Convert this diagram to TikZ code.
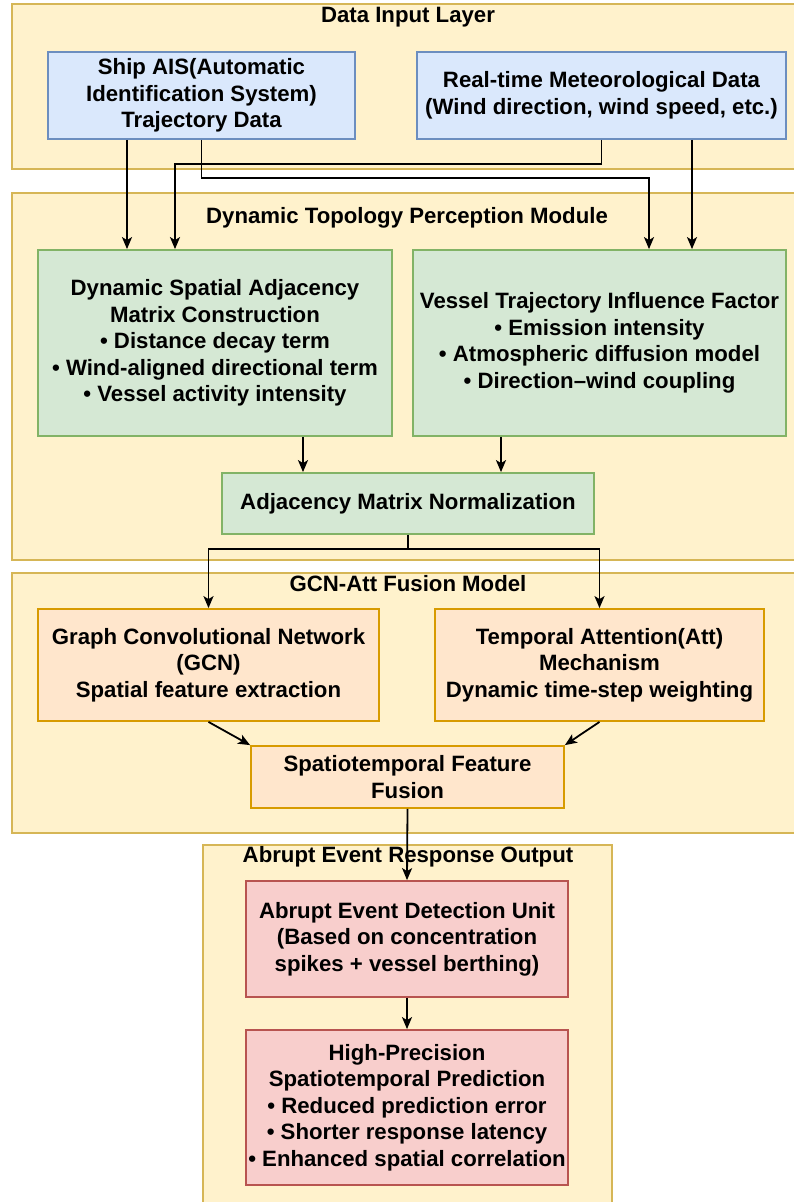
\documentclass[tikz,border=0pt]{standalone}
\usepackage{fontspec}
\setmainfont{Liberation Sans}
\usetikzlibrary{arrows.meta}
\definecolor{layerF}{HTML}{FFF2CC}
\definecolor{layerD}{HTML}{D6B656}
\definecolor{blueF}{HTML}{DAE8FC}
\definecolor{blueD}{HTML}{6C8EBF}
\definecolor{greenF}{HTML}{D5E8D4}
\definecolor{greenD}{HTML}{82B366}
\definecolor{orangeF}{HTML}{FFE6CC}
\definecolor{orangeD}{HTML}{D79B00}
\definecolor{redF}{HTML}{F8CECC}
\definecolor{redD}{HTML}{B85450}

\begin{document}
\begin{tikzpicture}[x=1pt, y=-1pt, >={Stealth[length=12pt,width=10pt,inset=3pt]},
  every node/.style={font=\fontsize{22.2}{26.5}\selectfont\bfseries, align=center, inner sep=0pt},
  layer/.style={draw=layerD, fill=layerF, line width=2pt, anchor=north west},
  inbox/.style={draw=blueD, fill=blueF, line width=1.8pt},
  topobox/.style={draw=greenD, fill=greenF, line width=1.8pt},
  fusebox/.style={draw=orangeD, fill=orangeF, line width=1.8pt},
  outbox/.style={draw=redD, fill=redF, line width=1.8pt},
  flow/.style={->, line width=1.8pt}]
\useasboundingbox (0,0) rectangle (794,1202);
% ---------- 数据输入层 ----------
\node[layer, minimum width=794, minimum height=165] (L1) at (11,3) {};
\node (t1) at (408,17) {Data Input Layer};
\node[inbox, minimum width=307, minimum height=87] (ais) at (201.5,95.5)
  {Ship AIS(Automatic\\Identification System)\\Trajectory Data};
\node[inbox, minimum width=369, minimum height=87] (met) at (601.5,95.5)
  {Real-time Meteorological Data\\(Wind direction, wind speed, etc.)};
% ---------- 动态拓扑感知模块 ----------
\node[layer, minimum width=794, minimum height=367] (L2) at (11,192) {};
\node (t2) at (407,218) {Dynamic Topology Perception Module};
\node[topobox, minimum width=354, minimum height=186] (dsa) at (215,343)
  {Dynamic Spatial Adjacency\\Matrix Construction\\• Distance decay term\\• Wind-aligned directional term\\• Vessel activity intensity};
\node[topobox, minimum width=373, minimum height=186] (vti) at (599.5,343)
  {Vessel Trajectory Influence Factor\\• Emission intensity\\• Atmospheric diffusion model\\• Direction–wind coupling};
\node[topobox, minimum width=372, minimum height=61] (norm) at (408,503.5)
  {Adjacency Matrix Normalization};
% ---------- GCN-Att 融合模型 ----------
\node[layer, minimum width=794, minimum height=260] (L3) at (11,572) {};
\node (t3) at (408,584) {GCN-Att Fusion Model};
\node[fusebox, minimum width=341, minimum height=112] (gcn) at (208.5,665)
  {Graph Convolutional Network\\(GCN)\\Spatial feature extraction};
\node[fusebox, minimum width=329, minimum height=112] (att) at (599.5,665)
  {Temporal Attention(Att)\\Mechanism\\Dynamic time-step weighting};
\node[fusebox, minimum width=313, minimum height=62] (fus) at (407.5,777)
  {Spatiotemporal Feature\\Fusion};
% ---------- 突发事件响应输出 ----------
\node[layer, minimum width=409, minimum height=380] (L4) at (202,844) {};
\node (t4) at (408,857) {Abrupt Event Response Output};
\node[outbox, minimum width=322, minimum height=116] (det) at (407,939)
  {Abrupt Event Detection Unit\\(Based on concentration\\spikes + vessel berthing)};
\node[outbox, minimum width=322, minimum height=155] (pred) at (407,1107.5)
  {High-Precision\\Spatiotemporal Prediction\\• Reduced prediction error\\• Shorter response latency\\• Enhanced spatial correlation};
% ---------- 连线 ----------
\coordinate (ais-l) at ([xshift=-74.5pt]ais.south);
\coordinate (met-r) at ([xshift=90.5pt]met.south);
\coordinate (dsa-b) at ([xshift=-40pt]dsa.north);
\coordinate (vti-a) at ([xshift=49.5pt]vti.north);
\coordinate (dsa-r) at ([xshift=88pt]dsa.south);
\coordinate (vti-l) at ([xshift=-98.5pt]vti.south);
\draw[flow] (ais-l) -- (ais-l |- dsa.north);
\draw[flow] (ais.south) -- ++(0,38) -| (vti-a);
\draw[flow] (met.south) -- ++(0,24) -| (dsa-b);
\draw[flow] (met-r) -- (met-r |- vti.north);
\draw[flow] (dsa-r) -- (dsa-r |- norm.north);
\draw[flow] (vti-l) -- (vti-l |- norm.north);
\draw[flow] (norm.south) -- ++(0,14) -| (gcn.north);
\draw[flow] (norm.south) -- ++(0,14) -| (att.north);
\draw[flow] (gcn.south) -- (fus.north west);
\draw[flow] (att.south) -- (fus.north east);
\draw[flow] (fus.south) -- (det.north);
\draw[flow] (det.south) -- (pred.north);
\end{tikzpicture}
\end{document}
